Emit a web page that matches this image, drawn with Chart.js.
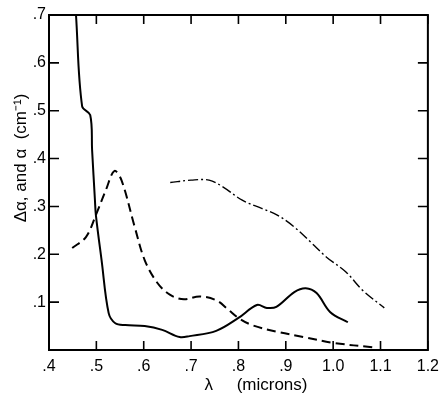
<!DOCTYPE html>
<html>
<head>
<meta charset="utf-8">
<script src="https://cdn.jsdelivr.net/npm/chart.js@4/dist/chart.umd.min.js"></script>
<style>
  html, body { margin: 0; padding: 0; background: #fff; }
  #wrap { width: 446px; height: 393px; position: relative; }
</style>
</head>
<body>
<div id="wrap"><canvas id="chart"></canvas></div>
<script>
// tick labels
const xTickLabels = ['.4', '.5', '.6', '.7', '.8', '.9', '1.0', '1.1', '1.2']
const yTickLabels = ['', '.1', '.2', '.3', '.4', '.5', '.6', '.7']

// solid curve: alpha
const solidX = [0.457, 0.470, 0.487, 0.491, 0.497, 0.499, 0.511, 0.526, 0.540, 0.561, 0.602, 0.639, 0.676, 0.697, 0.753, 0.800, 0.839, 0.860, 0.880, 0.918, 0.942, 0.965, 0.994, 1.031]
const solidY = [0.700, 0.509, 0.491, 0.418, 0.313, 0.282, 0.188, 0.077, 0.056, 0.052, 0.050, 0.042, 0.027, 0.029, 0.040, 0.067, 0.094, 0.088, 0.090, 0.121, 0.129, 0.119, 0.079, 0.058]

// dashed curve
const dashX = [0.449, 0.478, 0.499, 0.520, 0.538, 0.553, 0.581, 0.602, 0.629, 0.656, 0.685, 0.718, 0.753, 0.779, 0.800, 0.829, 0.882, 0.938, 1.000, 1.088]
const dashY = [0.213, 0.236, 0.282, 0.334, 0.374, 0.355, 0.257, 0.188, 0.140, 0.115, 0.106, 0.112, 0.104, 0.084, 0.067, 0.052, 0.038, 0.027, 0.015, 0.005]

// dash-dot curve
const dotX = [0.656, 0.700, 0.738, 0.767, 0.808, 0.849, 0.882, 0.918, 0.953, 0.986, 1.027, 1.062, 1.108]
const dotY = [0.350, 0.355, 0.355, 0.341, 0.313, 0.296, 0.282, 0.257, 0.225, 0.194, 0.163, 0.125, 0.088]

const toPoints = (xs, ys) => xs.map((x, i) => ({ x, y: ys[i] }))
const FONT = '"Liberation Sans", Arial, sans-serif'

// frame box with inward ticks on all four sides, plus both axis titles
const framePlugin = {
  id: 'frame',
  afterDraw(chart) {
    const { ctx, chartArea: a, scales } = chart
    ctx.save()
    ctx.strokeStyle = '#000'
    ctx.lineWidth = 2
    ctx.strokeRect(a.left, a.top, a.right - a.left, a.bottom - a.top)
    ctx.lineWidth = 1.6
    ctx.beginPath()
    scales.x.ticks.forEach(t => {
      const px = scales.x.getPixelForValue(t.value)
      ctx.moveTo(px, a.bottom); ctx.lineTo(px, a.bottom - 9)
      ctx.moveTo(px, a.top); ctx.lineTo(px, a.top + 9)
    })
    scales.y.ticks.forEach(t => {
      const py = scales.y.getPixelForValue(t.value)
      ctx.moveTo(a.left, py); ctx.lineTo(a.left + 10, py)
      ctx.moveTo(a.right, py); ctx.lineTo(a.right - 10, py)
    })
    ctx.stroke()

    ctx.fillStyle = '#000'
    ctx.font = '17px ' + FONT
    ctx.textAlign = 'center'
    ctx.textBaseline = 'middle'
    ctx.fillText('\u03bb     (microns)', 256, 385)

    ctx.translate(21, 158)
    ctx.rotate(-Math.PI / 2)
    ctx.fillText('\u0394\u03b1, and \u03b1  (cm\u207b\u00b9)', 0, 0)
    ctx.restore()
  }
}

new Chart('chart', {
  type: 'line',
  data: {
    datasets: [
      {
        data: toPoints(solidX, solidY),
        borderColor: '#000',
        borderWidth: 2,
        tension: 0.35,
        pointRadius: 0
      },
      {
        data: toPoints(dashX, dashY),
        borderColor: '#000',
        borderWidth: 2,
        borderDash: [9, 5],
        tension: 0.35,
        pointRadius: 0
      },
      {
        data: toPoints(dotX, dotY),
        borderColor: '#000',
        borderWidth: 1.4,
        borderDash: [10, 3, 2, 3],
        tension: 0.35,
        pointRadius: 0
      }
    ]
  },
  options: {
    responsive: true,
    maintainAspectRatio: false,
    animation: false,
    layout: { padding: { top: 15, right: 9, left: 0, bottom: 0 } },
    plugins: {
      legend: { display: false },
      tooltip: { enabled: false }
    },
    scales: {
      x: {
        type: 'linear',
        min: 0.4,
        max: 1.2,
        grid: { display: false, drawTicks: false },
        border: { display: false },
        ticks: {
          stepSize: 0.1,
          padding: 7,
          color: '#000',
          font: { size: 16, family: FONT },
          maxRotation: 0,
          callback: (v, i) => xTickLabels[i]
        },
        afterFit: scale => { scale.height = 43 }
      },
      y: {
        min: 0,
        max: 0.7,
        grid: { display: false, drawTicks: false },
        border: { display: false },
        ticks: {
          stepSize: 0.1,
          padding: 3,
          color: '#000',
          font: { size: 16, family: FONT },
          callback: (v, i) => yTickLabels[i]
        },
        afterFit: scale => { scale.width = 49 }
      }
    }
  },
  plugins: [framePlugin]
})
</script>
</body>
</html>
